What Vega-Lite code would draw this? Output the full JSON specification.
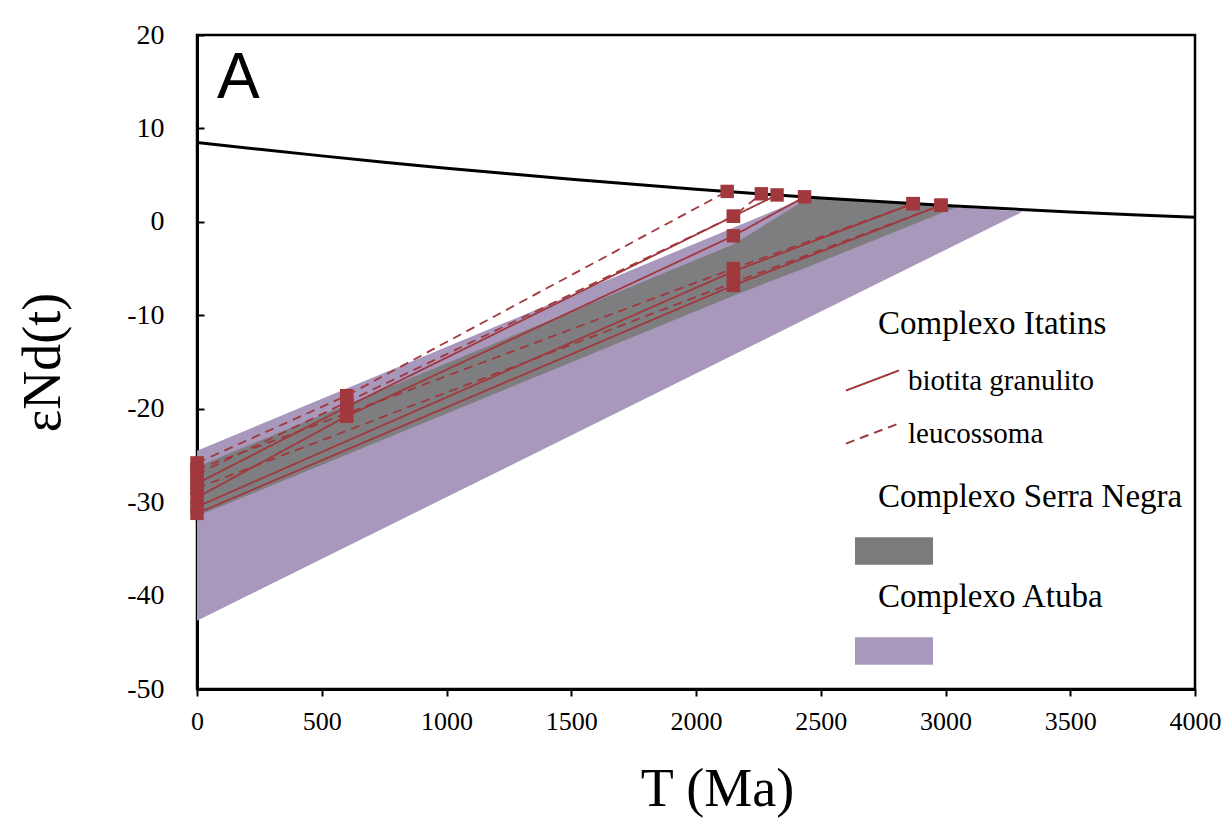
{
  "$schema": "https://vega.github.io/schema/vega-lite/v6.json",
  "width": 998,
  "height": 654,
  "autosize": {"type": "none"},
  "padding": {"left": 197, "top": 35, "right": 34, "bottom": 134},
  "background": "white",
  "config": {
    "view": {"stroke": "#000", "strokeWidth": 2.5},
    "font": "Liberation Serif",
    "axis": {"grid": false, "domainColor": "#000", "domainWidth": 3, "tickColor": "#000", "tickWidth": 2, "labelFont": "Liberation Serif", "labelColor": "#000", "titleFont": "Liberation Serif", "titleColor": "#000", "titleFontWeight": "normal", "labelFlush": false},
    "legend": {"titleFont": "Liberation Serif", "labelFont": "Liberation Serif", "titleColor": "#000", "labelColor": "#000", "titleFontWeight": "normal", "titleFontSize": 33, "labelFontSize": 29, "titleLimit": 600, "labelLimit": 600}
  },
  "datasets": {
    "dm": [
      {"T": 0, "e": 8.5}, {"T": 250, "e": 7.766}, {"T": 500, "e": 7.063}, {"T": 750, "e": 6.391},
      {"T": 1000, "e": 5.75}, {"T": 1250, "e": 5.141}, {"T": 1500, "e": 4.563}, {"T": 1750, "e": 4.016},
      {"T": 2000, "e": 3.5}, {"T": 2250, "e": 3.016}, {"T": 2500, "e": 2.563}, {"T": 2750, "e": 2.141},
      {"T": 3000, "e": 1.75}, {"T": 3250, "e": 1.391}, {"T": 3500, "e": 1.063}, {"T": 3750, "e": 0.766},
      {"T": 4000, "e": 0.5}
    ],
    "atuba": [
      {"T": 0, "e": -24.5, "e2": -42.7, "complex": "Complexo Atuba"},
      {"T": 2440, "e": 2.6, "e2": -10.4, "complex": "Complexo Atuba"},
      {"T": 3310, "e": 1.1, "e2": 1.1, "complex": "Complexo Atuba"}
    ],
    "serra": [
      {"T": 0, "e": -26.2, "e2": -31.5, "complex": "Complexo Serra Negra"},
      {"T": 2150, "e": -2.4, "e2": -7.9, "complex": "Complexo Serra Negra"},
      {"T": 2450, "e": 2.55, "e2": -4.8, "complex": "Complexo Serra Negra"},
      {"T": 3050, "e": 1.65, "e2": 1.65, "complex": "Complexo Serra Negra"}
    ],
    "itatins": [
      {"sample": "L1", "type": "leucossoma", "T": 0, "e": -25.8},
      {"sample": "L1", "type": "leucossoma", "T": 600, "e": -18.6},
      {"sample": "L1", "type": "leucossoma", "T": 2125, "e": 3.26},
      {"sample": "L2", "type": "leucossoma", "T": 0, "e": -27.0},
      {"sample": "L2", "type": "leucossoma", "T": 600, "e": -19.3},
      {"sample": "L2", "type": "leucossoma", "T": 2150, "e": 0.6},
      {"sample": "L2", "type": "leucossoma", "T": 2262, "e": 3.0},
      {"sample": "L3", "type": "biotita granulito", "T": 0, "e": -28.0},
      {"sample": "L3", "type": "biotita granulito", "T": 600, "e": -19.8},
      {"sample": "L3", "type": "biotita granulito", "T": 2150, "e": 0.6},
      {"sample": "L3", "type": "biotita granulito", "T": 2325, "e": 2.88},
      {"sample": "L4", "type": "biotita granulito", "T": 0, "e": -29.5},
      {"sample": "L4", "type": "biotita granulito", "T": 600, "e": -20.8},
      {"sample": "L4", "type": "biotita granulito", "T": 2150, "e": -1.5},
      {"sample": "L4", "type": "biotita granulito", "T": 2435, "e": 2.68},
      {"sample": "L5", "type": "biotita granulito", "T": 0, "e": -30.5},
      {"sample": "L5", "type": "biotita granulito", "T": 2150, "e": -5.3},
      {"sample": "L5", "type": "biotita granulito", "T": 2870, "e": 1.95},
      {"sample": "L6", "type": "biotita granulito", "T": 0, "e": -31.2},
      {"sample": "L6", "type": "biotita granulito", "T": 2150, "e": -6.8},
      {"sample": "L6", "type": "biotita granulito", "T": 2982, "e": 1.78},
      {"sample": "L7", "type": "leucossoma", "T": 0, "e": -26.5},
      {"sample": "L7", "type": "leucossoma", "T": 2150, "e": -5.0},
      {"sample": "L7", "type": "leucossoma", "T": 2870, "e": 1.95},
      {"sample": "L8", "type": "leucossoma", "T": 0, "e": -28.5},
      {"sample": "L8", "type": "leucossoma", "T": 2150, "e": -6.5},
      {"sample": "L8", "type": "leucossoma", "T": 2982, "e": 1.78}
    ]
  },
  "layer": [
    {
      "data": {"name": "atuba"},
      "mark": {"type": "area", "opacity": 1},
      "encoding": {
        "x": {"field": "T", "type": "quantitative", "title": "T (Ma)", "scale": {"domain": [0, 4000], "nice": false}, "axis": {"values": [0, 500, 1000, 1500, 2000, 2500, 3000, 3500, 4000], "labelExpr": "'' + datum.value", "tickSize": 7, "labelFontSize": 26, "labelPadding": 12, "titleFontSize": 54, "titlePadding": 28, "titleX": 520}},
        "y": {"field": "e", "type": "quantitative", "title": "εNd(t)", "scale": {"domain": [-50, 20], "nice": false}, "axis": {"values": [-50, -40, -30, -20, -10, 0, 10, 20], "labelExpr": "'' + datum.value", "tickSize": -7, "labelFontSize": 28, "labelPadding": 40, "titleFontSize": 54, "titlePadding": 56}},
        "y2": {"field": "e2"},
        "fill": {"field": "complex", "type": "nominal", "scale": {"range": ["#a898bc"]}, "legend": {"title": "Complexo Atuba", "orient": "none", "legendX": 681, "legendY": 546, "symbolType": "M-1,-0.35H1V0.35H-1Z", "symbolSize": 6084, "symbolStrokeWidth": 0, "symbolOpacity": 1, "symbolOffset": -23, "labelExpr": "''", "titlePadding": -2}}
      }
    },
    {
      "data": {"name": "serra"},
      "mark": {"type": "area", "opacity": 0.92},
      "encoding": {
        "x": {"field": "T", "type": "quantitative", "title": "T (Ma)", "scale": {"domain": [0, 4000], "nice": false}},
        "y": {"field": "e", "type": "quantitative", "title": "εNd(t)", "scale": {"domain": [-50, 20], "nice": false}},
        "y2": {"field": "e2"},
        "fill": {"field": "complex", "type": "nominal", "scale": {"range": ["#7b7b7b"]}, "legend": {"title": "Complexo Serra Negra", "orient": "none", "legendX": 681, "legendY": 446, "symbolType": "M-1,-0.35H1V0.35H-1Z", "symbolSize": 6084, "symbolStrokeWidth": 0, "symbolOpacity": 1, "symbolOffset": -23, "labelExpr": "''", "titlePadding": -2}}
      }
    },
    {
      "mark": {"type": "rule", "color": "#555", "strokeWidth": 1.2},
      "encoding": {"y": {"datum": 0, "type": "quantitative"}}
    },
    {
      "data": {"name": "dm"},
      "mark": {"type": "line", "color": "#000", "strokeWidth": 3, "interpolate": "monotone"},
      "encoding": {
        "x": {"field": "T", "type": "quantitative", "title": "T (Ma)", "scale": {"domain": [0, 4000], "nice": false}},
        "y": {"field": "e", "type": "quantitative", "title": "εNd(t)", "scale": {"domain": [-50, 20], "nice": false}}
      }
    },
    {
      "data": {"name": "itatins"},
      "mark": {"type": "line", "color": "#a0383e", "strokeWidth": 1.8},
      "encoding": {
        "x": {"field": "T", "type": "quantitative", "title": "T (Ma)", "scale": {"domain": [0, 4000], "nice": false}},
        "y": {"field": "e", "type": "quantitative", "title": "εNd(t)", "scale": {"domain": [-50, 20], "nice": false}},
        "detail": {"field": "sample", "type": "nominal"},
        "strokeDash": {"field": "type", "type": "nominal", "scale": {"domain": ["biotita granulito", "leucossoma"], "range": [[1, 0], [9, 6]]}, "legend": {"title": "Complexo Itatins", "orient": "none", "legendX": 681, "legendY": 273, "symbolType": "M-1,0.38L1,-0.38", "symbolSize": 2809, "symbolStrokeColor": "#a0383e", "symbolStrokeWidth": 2, "symbolOffset": -33, "labelOffset": 8, "titlePadding": 12, "rowPadding": 10}}
      }
    },
    {
      "data": {"name": "itatins"},
      "mark": {"type": "point", "shape": "square", "filled": true, "size": 180, "color": "#a0383e", "opacity": 1},
      "encoding": {
        "x": {"field": "T", "type": "quantitative", "title": "T (Ma)", "scale": {"domain": [0, 4000], "nice": false}},
        "y": {"field": "e", "type": "quantitative", "title": "εNd(t)", "scale": {"domain": [-50, 20], "nice": false}}
      }
    },
    {
      "data": {"values": [{"label": "A"}]},
      "mark": {"type": "text", "font": "Liberation Sans", "fontSize": 64, "align": "left", "baseline": "alphabetic", "color": "#000"},
      "encoding": {
        "x": {"datum": 80, "type": "quantitative"},
        "y": {"datum": 13.3, "type": "quantitative"},
        "text": {"field": "label"}
      }
    }
  ],
  "resolve": {"scale": {"fill": "independent"}}
}
